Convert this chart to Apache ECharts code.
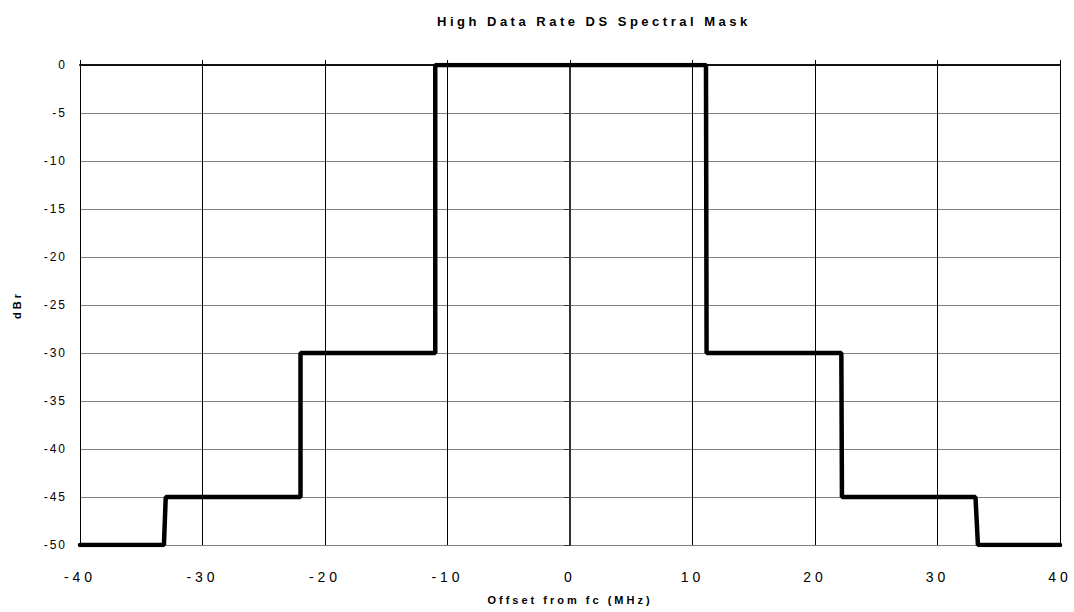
<!DOCTYPE html>
<html>
<head>
<meta charset="utf-8">
<script src="https://cdn.jsdelivr.net/npm/echarts@6/dist/echarts.min.js"></script>
<style>
  html, body { margin: 0; padding: 0; background: #fff; }
  #container { width: 1074px; height: 612px; }
  /* spaced-out lettering like the original */
  #container svg text[style*="13px"] { letter-spacing: 3.5px; }
  #container svg text[style*="14px"] { letter-spacing: 4px; }
  #container svg text[style*="12px"] { letter-spacing: 2px; }
  #container svg text[style*="11px"] { letter-spacing: 3px; }
</style>
</head>
<body>
<div id="container"></div>
<script>
/* mask data: offset from carrier (MHz) and relative level (dBr) */
var freqMHz = [-40, -33.15, -33, -22, -22, -11, -11, 11.1, 11.15, 22.15, 22.2, 33.1, 33.3, 40];
var maskDbr = [-50, -50, -45, -45, -30, -30, 0, 0, -30, -30, -45, -45, -50, -50];

var xMin = -40, xMax = 40, xStep = 10;
var yMin = -50, yMax = 0, yStep = 5;

var points = freqMHz.map(function (f, i) {
    return [f, maskDbr[i]];
});

var dom = document.getElementById("container");
var myChart = echarts.init(dom, null, { renderer: 'svg' });

var option = {
    animation: false,
    backgroundColor: '#fff',
    textStyle: { fontFamily: 'Liberation Sans, Arial, sans-serif', color: '#000' },
    title: {
        text: 'High Data Rate DS Spectral Mask',
        left: 432,
        top: 10,
        textStyle: { fontSize: 13, fontWeight: 'bold', color: '#000' }
    },
    grid: { left: 80, right: 14, top: 65, bottom: 67 },
    xAxis: [{
        type: 'value',
        min: xMin,
        max: xMax,
        interval: xStep,
        position: 'bottom',
        name: 'Offset from fc (MHz)',
        nameLocation: 'middle',
        nameGap: 49,
        nameTextStyle: { fontSize: 11, fontWeight: 'bold', color: '#000' },
        axisLine: { show: true, lineStyle: { color: '#444', width: 2 } },
        axisTick: { show: false },
        axisLabel: { fontSize: 14, color: '#000', margin: 25 },
        splitLine: { show: true, lineStyle: { color: '#000', width: 1 } }
    }, {
        type: 'value',
        min: xMin,
        max: xMax,
        interval: xStep,
        position: 'top',
        axisLine: { show: true, lineStyle: { color: '#000', width: 1.5 } },
        axisTick: { show: true, inside: false, length: 5, lineStyle: { color: '#000' } },
        axisLabel: { show: false },
        splitLine: { show: false }
    }],
    yAxis: {
        type: 'value',
        min: yMin,
        max: yMax,
        interval: yStep,
        name: 'dBr',
        nameLocation: 'middle',
        nameGap: 58,
        nameTextStyle: { fontSize: 11, fontWeight: 'bold', color: '#000' },
        axisLine: { show: true, lineStyle: { color: '#333', width: 2 } },
        axisTick: { show: true, inside: false, length: 6, lineStyle: { color: '#333' } },
        axisLabel: { fontSize: 12, color: '#000', margin: 13 },
        splitLine: { show: true, lineStyle: { color: '#808080', width: 1.2 } }
    },
    series: [{
        name: 'Mask',
        type: 'line',
        data: points,
        showSymbol: false,
        symbol: 'none',
        lineStyle: { color: '#000', width: 4.5, cap: 'round' },
        z: 5
    }]
};

myChart.setOption(option);
</script>
</body>
</html>
